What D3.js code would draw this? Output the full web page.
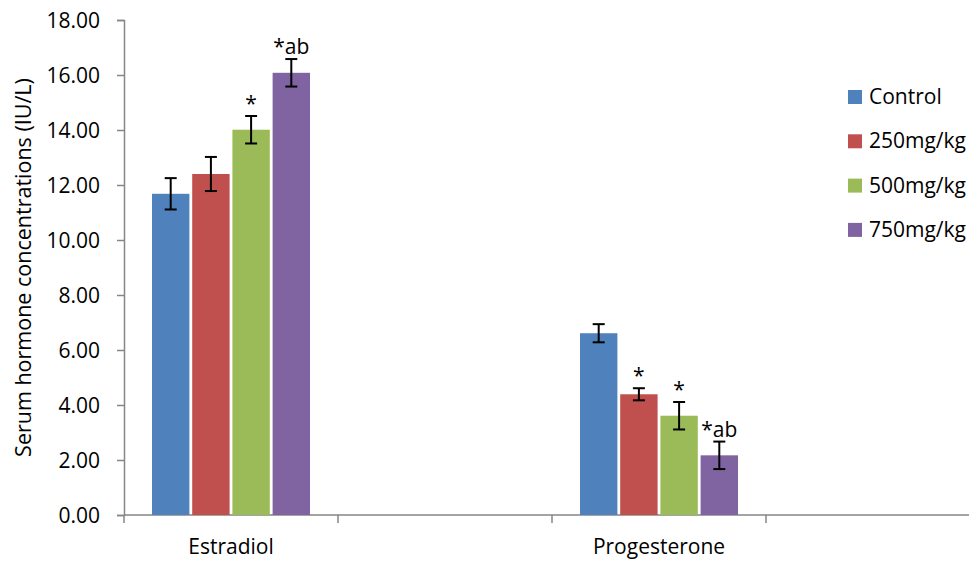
<!DOCTYPE html>
<html>
<head>
<meta charset="utf-8">
<script src="https://cdn.jsdelivr.net/npm/d3@7"></script>
<style>
  body { margin: 0; background: #fff; }
  svg { display: block; font-family: "Open Sans", sans-serif; }
  .tick-label { font-size: 21px; fill: #000; }
  .axis-line { stroke: #868686; stroke-width: 1.5; }
</style>
</head>
<body>
<svg id="chart" width="969" height="561"></svg>
<script>
// chart data
const categories = ['Estradiol', '', 'Progesterone', ''];
const series = ['Control', '250mg/kg', '500mg/kg', '750mg/kg'];
const colors = ['#4F81BD', '#C0504D', '#9BBB59', '#8064A2'];
// mean values per category (rows) and series (columns)
const means = [
  [11.68, 12.40, 14.01, 16.08],
  null,
  [6.61, 4.39, 3.61, 2.17],
  null
];
const errors = [
  [0.57, 0.62, 0.50, 0.50],
  null,
  [0.33, 0.22, 0.50, 0.50],
  null
];
const marks = [
  ['', '', '*', '*ab'],
  null,
  ['', '*', '*', '*ab'],
  null
];
const yTicks = [0, 2, 4, 6, 8, 10, 12, 14, 16, 18];

const svg = d3.select('#chart');
const plotLeft = 124, plotTop = 20, plotBottom = 515;
const catWidth = 214;

const y = d3.scaleLinear().domain([0, 18]).range([plotBottom, plotTop]);
const x = d3.scaleBand()
  .domain(d3.range(categories.length))
  .range([plotLeft, plotLeft + catWidth * categories.length]);
const xInner = d3.scaleBand()
  .domain(series)
  .range([28, 186])
  .paddingInner(0.07);

// y axis
const yAxis = svg.append('g')
  .attr('transform', `translate(${plotLeft},0)`)
  .call(d3.axisLeft(y).tickValues(yTicks).tickFormat(d3.format('.2f')).tickSize(7).tickPadding(17));
yAxis.attr('font-family', null).attr('font-size', null);
yAxis.select('.domain').attr('stroke', '#868686').attr('stroke-width', 1.5);
yAxis.selectAll('.tick line').attr('stroke', '#868686').attr('stroke-width', 1.5);
yAxis.selectAll('.tick text').attr('class', 'tick-label').attr('dy', '0.36em');

// x axis line + boundary ticks
svg.append('line').attr('class', 'axis-line')
  .attr('x1', plotLeft).attr('x2', x.range()[1])
  .attr('y1', plotBottom).attr('y2', plotBottom);
const bounds = d3.range(categories.length + 1).map(i => i < categories.length ? x(i) : x.range()[1]);
svg.selectAll('.xtick').data(bounds).enter().append('line')
  .attr('class', 'axis-line')
  .attr('x1', d => d).attr('x2', d => d)
  .attr('y1', plotBottom).attr('y2', plotBottom + 8);
svg.selectAll('.xlabel').data(categories).enter().append('text')
  .attr('class', 'tick-label')
  .attr('x', (d, i) => x(i) + x.bandwidth() / 2)
  .attr('y', 554)
  .attr('text-anchor', 'middle')
  .text(d => d);

// bars
const groups = svg.selectAll('.grp')
  .data(categories.map((c, i) => i).filter(i => means[i]))
  .enter().append('g')
  .attr('transform', i => `translate(${x(i)},0)`);

groups.selectAll('rect')
  .data(i => series.map((s, j) => ({ s, j, v: means[i][j] })))
  .enter().append('rect')
  .attr('x', d => xInner(d.s))
  .attr('width', xInner.bandwidth())
  .attr('y', d => y(d.v))
  .attr('height', d => y(0) - y(d.v))
  .attr('fill', d => colors[d.j]);

// error bars and significance marks
const eb = groups.selectAll('.err')
  .data(i => series.map((s, j) => ({ s, j, v: means[i][j], e: errors[i][j], m: marks[i][j] })))
  .enter().append('g')
  .attr('transform', d => `translate(${xInner(d.s) + xInner.bandwidth() / 2},0)`);
eb.append('line')
  .attr('y1', d => y(d.v + d.e)).attr('y2', d => y(d.v - d.e))
  .attr('stroke', '#000').attr('stroke-width', 2);
eb.append('line')
  .attr('x1', -6).attr('x2', 6)
  .attr('y1', d => y(d.v + d.e)).attr('y2', d => y(d.v + d.e))
  .attr('stroke', '#000').attr('stroke-width', 2);
eb.append('line')
  .attr('x1', -6).attr('x2', 6)
  .attr('y1', d => y(d.v - d.e)).attr('y2', d => y(d.v - d.e))
  .attr('stroke', '#000').attr('stroke-width', 2);
eb.append('text')
  .attr('class', 'tick-label')
  .attr('text-anchor', 'middle')
  .attr('y', d => y(d.v + d.e) - 5)
  .text(d => d.m);

// y axis title
svg.append('text')
  .attr('transform', `translate(31,${(plotTop + plotBottom) / 2}) rotate(-90)`)
  .attr('text-anchor', 'middle')
  .attr('font-size', 21.5)
  .text('Serum hormone concentrations (IU/L)');

// legend
const legend = svg.append('g').attr('transform', 'translate(848,90)');
const li = legend.selectAll('g').data(series).enter().append('g')
  .attr('transform', (d, i) => `translate(0,${i * 44.3})`);
li.append('rect').attr('width', 14).attr('height', 14).attr('fill', (d, i) => colors[i]);
li.append('text').attr('class', 'tick-label').attr('x', 21).attr('y', 14).text(d => d);
</script>
</body>
</html>
